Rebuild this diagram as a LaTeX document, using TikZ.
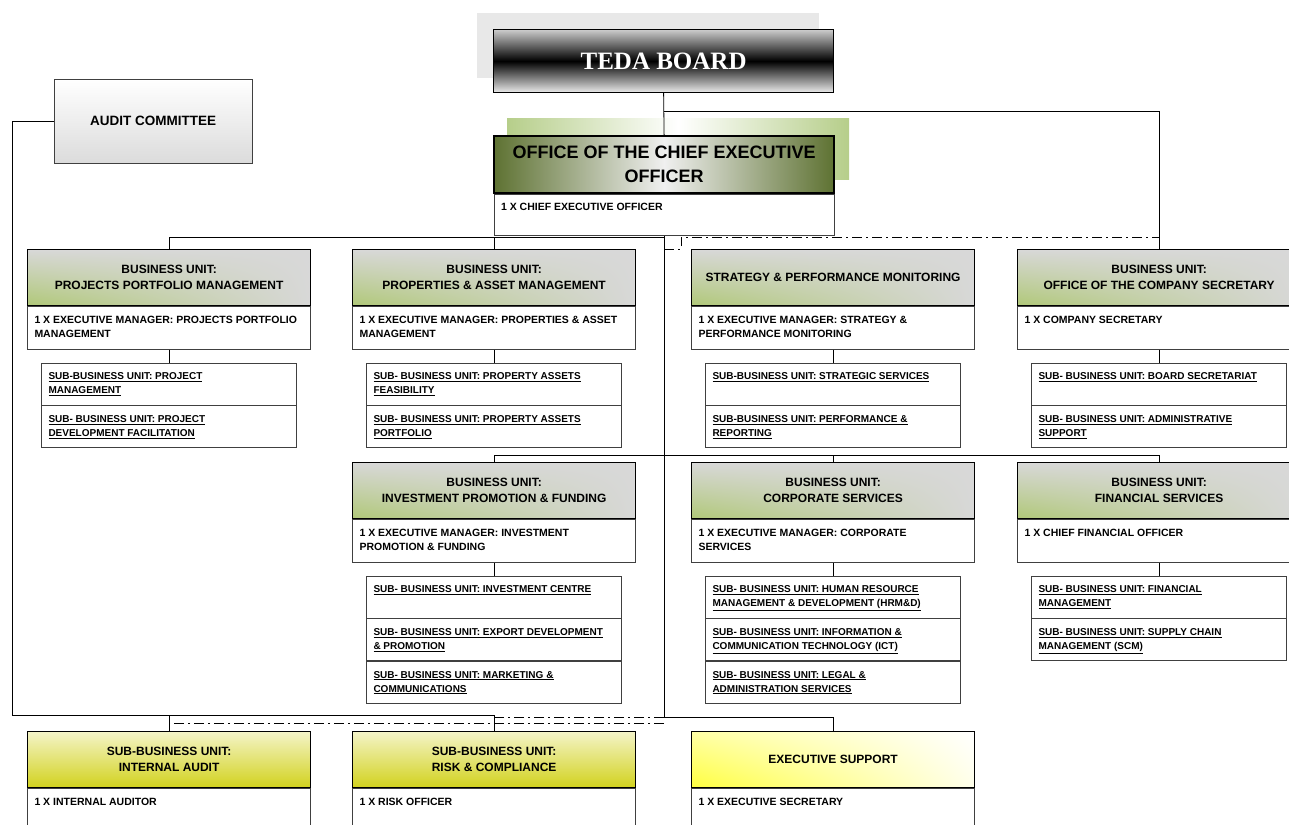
\documentclass[tikz,border=0pt]{standalone}
\usepackage{fontspec}
\setmainfont{Liberation Sans}
\newfontfamily\boardfont{Liberation Serif}
\usepackage{tikz}
\usetikzlibrary{positioning, shadings}

\definecolor{BUgreen}{RGB}{176,200,120}
\definecolor{BUgray}{RGB}{216,216,216}
\definecolor{CEOolive}{RGB}{94,114,50}
\definecolor{CEOshadow}{RGB}{182,206,138}
\definecolor{AudTop}{RGB}{244,244,200}
\definecolor{AudBot}{RGB}{210,210,30}
\definecolor{BoxLine}{RGB}{64,64,64}

\begin{document}
\begin{tikzpicture}[x=1pt, y=-1pt,
  Head/.style={draw, line width=1.2pt, anchor=north west, minimum width=283pt, minimum height=56pt, align=center, inner sep=0pt,
    font=\fontsize{12}{16}\selectfont\bfseries,
    lower left=BUgreen, upper left=BUgray, upper right=BUgray, lower right=BUgray},
  AuditHead/.style={Head, top color=AudTop, bottom color=AudBot},
  Body/.style={draw=BoxLine, fill=white, line width=0.6pt, minimum width=283pt, minimum height=43pt},
  Sub/.style={draw=BoxLine, fill=white, line width=0.6pt, anchor=north, minimum width=255pt, minimum height=42pt},
  BodyText/.style={anchor=north west, inner sep=0pt, align=left, font=\fontsize{10.5}{14}\selectfont\bfseries},
  SubText/.style={BodyText, font=\fontsize{10}{14}\selectfont\bfseries},
  Link/.style={line width=0.8pt},
  DotLink/.style={line width=0.8pt, dash pattern=on 10pt off 4pt on 2pt off 4pt}]

\useasboundingbox (0,0) rectangle (1289,824);

% board and audit committee
\fill [gray!18] (477,13) rectangle (819,78);
\node [draw, line width=1.2pt, anchor=north west, minimum width=340pt, minimum height=63pt,
  top color=gray!40, bottom color=gray!15, middle color=black, text=white,
  font=\boardfont\bfseries\fontsize{25}{30}\selectfont] (board) at (493,29) {TEDA BOARD};

\node [draw=BoxLine, anchor=north west, minimum width=198pt, minimum height=84pt, top color=white, bottom color=gray!28,
  font=\fontsize{13.5}{16}\selectfont\bfseries] (audit) at (54,79) {AUDIT COMMITTEE};

% chief executive
\fill [left color=CEOshadow, right color=CEOshadow, middle color=white] (507,119) rectangle (849,179);
\node [draw, line width=2.2pt, anchor=north west, minimum width=340pt, minimum height=57pt,
  left color=CEOolive, right color=CEOolive, middle color=gray!12, align=center,
  font=\fontsize{18}{24}\selectfont\bfseries] (ceo) at (493,135) {OFFICE OF THE CHIEF EXECUTIVE\\OFFICER};
\node [Body, minimum width=340pt, minimum height=41pt, below=0pt of ceo] (ceo-b) {};
\node [BodyText] (ceo-t) at ([shift={(7,9)}]ceo-b.north west) {1 X CHIEF EXECUTIVE OFFICER};

% business units
\foreach \x/\y/\name/\head/\body in {
  27/249/ppm/{BUSINESS UNIT:\\PROJECTS PORTFOLIO MANAGEMENT}/{1 X EXECUTIVE MANAGER: PROJECTS PORTFOLIO\\MANAGEMENT},
  352/249/pam/{BUSINESS UNIT:\\PROPERTIES \& ASSET MANAGEMENT}/{1 X EXECUTIVE MANAGER: PROPERTIES \& ASSET\\MANAGEMENT},
  691/249/spm/{STRATEGY \& PERFORMANCE MONITORING}/{1 X EXECUTIVE MANAGER: STRATEGY \&\\PERFORMANCE MONITORING},
  1017/249/cos/{BUSINESS UNIT:\\OFFICE OF THE COMPANY SECRETARY}/{1 X COMPANY SECRETARY},
  352/462/ipf/{BUSINESS UNIT:\\INVESTMENT PROMOTION \& FUNDING}/{1 X EXECUTIVE MANAGER: INVESTMENT\\PROMOTION \& FUNDING},
  691/462/cor/{BUSINESS UNIT:\\CORPORATE SERVICES}/{1 X EXECUTIVE MANAGER: CORPORATE\\SERVICES},
  1017/462/fin/{BUSINESS UNIT:\\FINANCIAL SERVICES}/{1 X CHIEF FINANCIAL OFFICER}} {
  \node [Head] (\name) at (\x,\y) {\head};
  \node [Body, below=0pt of \name] (\name-b) {};
  \node [BodyText] (\name-t) at ([shift={(7,10)}]\name-b.north west) {\body};
}

% audit, risk and executive support
\foreach \x/\name/\head/\body in {
  27/iau/{SUB-BUSINESS UNIT:\\INTERNAL AUDIT}/{1 X INTERNAL AUDITOR},
  352/rsk/{SUB-BUSINESS UNIT:\\RISK \& COMPLIANCE}/{1 X RISK OFFICER}} {
  \node [AuditHead] (\name) at (\x,731) {\head};
  \node [Body, below=0pt of \name] (\name-b) {};
  \node [BodyText] (\name-t) at ([shift={(7,10)}]\name-b.north west) {\body};
}
\node [Head, lower left=yellow!75, upper left=yellow!35, upper right=white, lower right=yellow!8] (exs) at (691,731) {EXECUTIVE SUPPORT};
\node [Body, below=0pt of exs] (exs-b) {};
\node [BodyText] (exs-t) at ([shift={(7,10)}]exs-b.north west) {1 X EXECUTIVE SECRETARY};

% sub-business units
\foreach \name/\prev/\gap/\txt in {
  ppm-s1/ppm-b/13pt/{\underline{SUB-BUSINESS UNIT: PROJECT}\\\underline{MANAGEMENT}},
  ppm-s2/ppm-s1/0pt/{\underline{SUB- BUSINESS UNIT: PROJECT}\\\underline{DEVELOPMENT FACILITATION}},
  pam-s1/pam-b/13pt/{\underline{SUB- BUSINESS UNIT: PROPERTY ASSETS}\\\underline{FEASIBILITY}},
  pam-s2/pam-s1/0pt/{\underline{SUB- BUSINESS UNIT: PROPERTY ASSETS}\\\underline{PORTFOLIO}},
  spm-s1/spm-b/13pt/{\underline{SUB-BUSINESS UNIT: STRATEGIC SERVICES}},
  spm-s2/spm-s1/0pt/{\underline{SUB-BUSINESS UNIT:  PERFORMANCE \&}\\\underline{REPORTING}},
  cos-s1/cos-b/13pt/{\underline{SUB- BUSINESS UNIT: BOARD SECRETARIAT}},
  cos-s2/cos-s1/0pt/{\underline{SUB- BUSINESS UNIT: ADMINISTRATIVE}\\\underline{SUPPORT}},
  ipf-s1/ipf-b/13pt/{\underline{SUB- BUSINESS UNIT: INVESTMENT CENTRE}},
  ipf-s2/ipf-s1/0pt/{\underline{SUB- BUSINESS UNIT: EXPORT DEVELOPMENT}\\\underline{\& PROMOTION}},
  ipf-s3/ipf-s2/0pt/{\underline{SUB- BUSINESS UNIT: MARKETING \&}\\\underline{COMMUNICATIONS}},
  cor-s1/cor-b/13pt/{\underline{SUB- BUSINESS UNIT: HUMAN RESOURCE}\\\underline{MANAGEMENT \& DEVELOPMENT (HRM\&D)}},
  cor-s2/cor-s1/0pt/{\underline{SUB- BUSINESS UNIT: INFORMATION \&}\\\underline{COMMUNICATION TECHNOLOGY (ICT)}},
  cor-s3/cor-s2/0pt/{\underline{SUB- BUSINESS UNIT: LEGAL \&}\\\underline{ADMINISTRATION SERVICES}},
  fin-s1/fin-b/13pt/{\underline{SUB- BUSINESS UNIT: FINANCIAL}\\\underline{MANAGEMENT}},
  fin-s2/fin-s1/0pt/{\underline{SUB- BUSINESS UNIT: SUPPLY CHAIN}\\\underline{MANAGEMENT (SCM)}}} {
  \node [Sub] (\name) at ([yshift=-\gap]\prev.south) {};
  \node [SubText] (\name-t) at ([shift={(7,10)}]\name.north west) {\txt};
}

% connectors
\coordinate (bsplit) at ([yshift=-18pt]board.south);
\coordinate (tbus) at ([yshift=12pt]ppm.north);
\coordinate (mbus) at ([yshift=7pt]ipf.north);
\coordinate (abus) at ([yshift=16pt]rsk.north);
\coordinate (ebus) at ([yshift=14pt]exs.north);
\coordinate (dbus) at ([yshift=8pt]iau.north);
\coordinate (rbus) at ([yshift=14pt]rsk.north);

\draw [Link] (board.south) -- (ceo.north);
\draw [Link] (bsplit) -| (cos.north);
\draw [Link] (audit.west) -- ++(-42,0) |- (abus) -- (rsk.north);
\draw [Link] (iau.north) -- (iau.north |- abus);
\draw [Link] (ceo-b.south) -- (ceo-b.south |- ebus) -| (exs.north);
\draw [Link] (ppm.north) |- (tbus -| ceo-b.south);
\draw [Link] (pam.north) -- (pam.north |- tbus);
\draw [Link] (ipf.north) -- (mbus) -| (fin.north);
\draw [Link] (cor.north) -- (cor.north |- mbus);
\foreach \name in {ppm, pam, spm, cos, ipf, cor, fin}
  \draw [Link] (\name-b.south) -- (\name-s1.north);

\draw [DotLink] (ceo-b.south |- spm.north) -- ++(17,0) |- (tbus -| cos.north);
\draw [DotLink] (ceo-b.south |- dbus) -- (dbus);
\draw [DotLink] (ceo-b.south |- rbus) -- (rbus);
\end{tikzpicture}
\end{document}
